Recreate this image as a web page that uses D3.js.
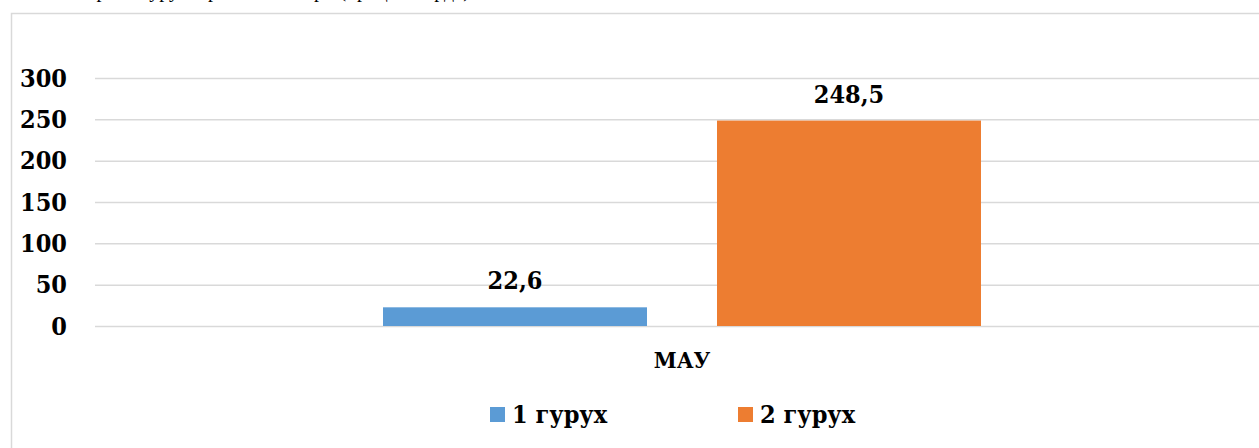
<!DOCTYPE html>
<html>
<head>
<meta charset="utf-8">
<script src="https://cdn.jsdelivr.net/npm/d3@7"></script>
<style>
  body { margin: 0; background: #fff; }
  svg { display: block; }
  .lbl { font-family: "DejaVu Serif Condensed", "DejaVu Serif", serif; font-stretch: condensed; font-weight: bold; fill: #000; }
</style>
</head>
<body>
<svg id="chart" width="1259" height="448"></svg>
<script>
const categories = ["МАУ"];
const seriesNames = ["1 гурух", "2 гурух"];
const seriesValues = [[22.6], [248.5]];
const seriesColors = ["#5b9bd5", "#ed7d31"];
const yTicks = [0, 50, 100, 150, 200, 250, 300];

const width = 1259, height = 448;
const svg = d3.select("#chart");

// chart area frame (runs off the right and bottom of the picture)
svg.append("rect")
  .attr("x", 11.5).attr("y", 13.5)
  .attr("width", 1270).attr("height", 460)
  .attr("fill", "#fff")
  .attr("stroke", "#d9d9d9").attr("stroke-width", 1.5);

// caption line above the frame, mostly cut off by the page edge
svg.append("text")
  .attr("x", 62).attr("y", -3)
  .style("font-family", "'Liberation Serif', serif")
  .style("font-size", "20px")
  .attr("fill", "#000")
  .text("Тажриба гурухлари натижалари (процентларда)");

const y = d3.scaleLinear().domain([0, 300]).range([326, 78]);

const x0 = d3.scaleBand()
  .domain(categories)
  .range([95, 1269])
  .paddingInner(0)
  .paddingOuter(0.4816);

const x1 = d3.scaleBand()
  .domain(seriesNames)
  .range([0, x0.bandwidth()])
  .paddingInner(0.2096)
  .paddingOuter(0);

// gridlines
svg.append("g")
  .attr("transform", "translate(95,0)")
  .call(d3.axisLeft(y).tickValues(yTicks).tickSize(-1200).tickFormat(""))
  .call(g => g.select(".domain").remove())
  .call(g => g.selectAll("line").attr("stroke", "#d9d9d9").attr("stroke-width", 1.5));

// y tick labels
svg.append("g")
  .selectAll("text")
  .data(yTicks)
  .join("text")
  .attr("class", "lbl")
  .attr("x", 67)
  .attr("y", d => y(d))
  .attr("dy", "0.35em")
  .attr("text-anchor", "end")
  .style("font-size", "25px")
  .text(d => d);

// bars
const rows = seriesNames.map((s, i) => ({ name: s, value: seriesValues[i][0], color: seriesColors[i], cat: categories[0] }));

const g = svg.append("g");
g.selectAll("rect")
  .data(rows)
  .join("rect")
  .attr("x", d => x0(d.cat) + x1(d.name))
  .attr("y", d => y(d.value))
  .attr("width", x1.bandwidth())
  .attr("height", d => y(0) - y(d.value))
  .attr("fill", d => d.color);

// value labels
g.selectAll("text")
  .data(rows)
  .join("text")
  .attr("class", "lbl")
  .attr("x", d => x0(d.cat) + x1(d.name) + x1.bandwidth() / 2)
  .attr("y", d => y(d.value) - 18)
  .attr("text-anchor", "middle")
  .style("font-size", "25px")
  .text(d => d3.format(".1f")(d.value).replace(".", ","));

// category label
svg.append("text")
  .attr("class", "lbl")
  .attr("x", x0(categories[0]) + x0.bandwidth() / 2)
  .attr("y", 368)
  .attr("text-anchor", "middle")
  .style("font-size", "23px")
  .text(categories[0]);

// legend
const legendX = [490, 738];
const leg = svg.append("g")
  .selectAll("g")
  .data(rows)
  .join("g")
  .attr("transform", (d, i) => `translate(${legendX[i]},0)`);
leg.append("rect")
  .attr("x", 0).attr("y", 407)
  .attr("width", 15).attr("height", 15)
  .attr("fill", d => d.color);
leg.append("text")
  .attr("class", "lbl")
  .attr("x", 22).attr("y", 423)
  .style("font-size", "25px")
  .text(d => d.name);
</script>
</body>
</html>
